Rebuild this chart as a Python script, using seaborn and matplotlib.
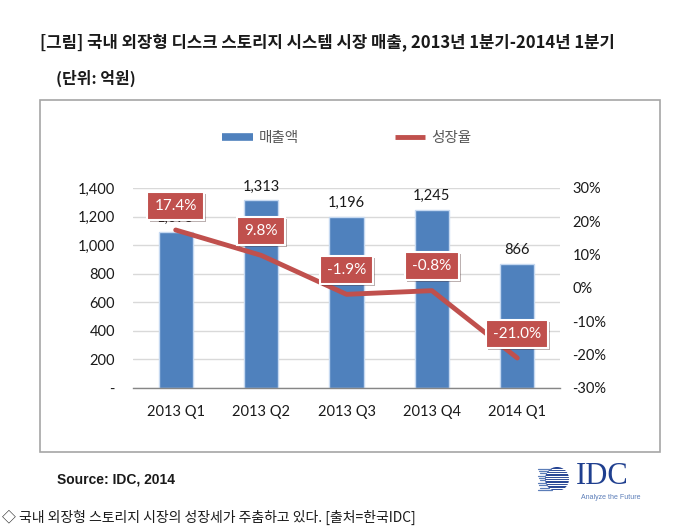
import matplotlib
matplotlib.use("Agg")
import matplotlib.pyplot as plt
import matplotlib.patheffects as pe
from matplotlib.patches import Rectangle, Circle
from matplotlib.lines import Line2D
from matplotlib.ticker import FuncFormatter, FixedLocator
import seaborn as sns
import numpy as np

# ---- data ----
quarters = ["2013 Q1", "2013 Q2", "2013 Q3", "2013 Q4", "2014 Q1"]
sales = [1093, 1313, 1196, 1245, 866]            # 억원
growth = [0.174, 0.098, -0.019, -0.008, -0.210]   # 성장율
sales_ticks = [0, 200, 400, 600, 800, 1000, 1200, 1400]
growth_ticks = [-0.30, -0.20, -0.10, 0.0, 0.10, 0.20, 0.30]

title = "[그림] 국내 외장형 디스크 스토리지 시스템 시장 매출, 2013년 1분기-2014년 1분기"
unit_text = "(단위: 억원)"
legend_labels = ["매출액", "성장율"]
source_text = "Source: IDC, 2014"
caption = "◇ 국내 외장형 스토리지 시장의 성장세가 주춤하고 있다. [출처=한국IDC]"

BLUE = "#4F81BD"
RED = "#C0504D"

sns.set_theme(style="white")
plt.rcParams['font.family'] = ['Lato', 'Noto Sans CJK KR', 'DejaVu Sans']
KR = ['Noto Sans CJK KR', 'DejaVu Sans']

W, H = 680, 530
fig = plt.figure(figsize=(W / 100, H / 100), dpi=100)
fig.patch.set_facecolor("white")

def fx(px):
    return px / W

def fy(py):
    return 1 - py / H

# outer frame
fig.patches.append(Rectangle((fx(40), fy(452)), fx(660) - fx(40), fy(100) - fy(452),
                             transform=fig.transFigure, fill=False,
                             edgecolor="#A6A6A6", linewidth=1.2, zorder=0))

ax = fig.add_axes([fx(133), fy(388), fx(560) - fx(133), fy(188) - fy(388)])
ax2 = ax.twinx()

sns.barplot(x=quarters, y=sales, ax=ax, color=BLUE, saturation=1, width=0.4,
            edgecolor="#C6D9F1", linewidth=1.0, zorder=2)
ax.set_ylim(0, 1400)
ax.set_xlim(-0.5, 4.5)
ax.yaxis.set_major_locator(FixedLocator(sales_ticks))
ax.yaxis.set_major_formatter(FuncFormatter(lambda v, p: "-" if v == 0 else f"{int(v):,}"))
ax.grid(axis="y", color="#D9D9D9", linewidth=1.0, zorder=0)
ax.set_axisbelow(True)
ax.set_xlabel("")
ax.set_ylabel("")

sns.lineplot(x=np.arange(len(quarters)), y=growth, ax=ax2, color=RED,
             linewidth=3.5, sort=False, zorder=3, legend=False)
ax2.set_ylim(-0.30, 0.30)
ax2.yaxis.set_major_locator(FixedLocator(growth_ticks))
ax2.yaxis.set_major_formatter(FuncFormatter(lambda v, p: f"{round(v * 100):d}%"))
ax2.set_ylabel("")
ax2.grid(False)

for a in (ax, ax2):
    for s in ("top", "left", "right"):
        a.spines[s].set_visible(False)
    a.spines["bottom"].set_color("#868686")
    a.spines["bottom"].set_linewidth(1.0)
    a.tick_params(length=0, labelsize=10.5, labelcolor="#1A1A1A")
ax2.spines["bottom"].set_visible(False)
ax.tick_params(axis="y", pad=13)
ax.tick_params(axis="x", pad=12)
ax2.tick_params(axis="y", pad=9)

# bar value labels (the first one sits behind the 17.4% box, as in the source)
for i, v in enumerate(sales):
    ax.annotate(f"{v:,}", (i, v), xytext=(0, 5), textcoords="offset points",
                ha="center", va="bottom", fontsize=10.5, color="#1A1A1A", zorder=4)

# growth labels (boxes)
ax2.set_zorder(ax.get_zorder() + 1)
ax2.patch.set_visible(False)
for i, g in enumerate(growth):
    t = ax2.annotate(f"{g * 100:.1f}%", (i, g), xytext=(0, 17.5), textcoords="offset points",
                     ha="center", va="center", fontsize=11, color="white",
                     bbox=dict(boxstyle="square,pad=0.46", facecolor=RED,
                               edgecolor="white", linewidth=1.5), zorder=5)
    t.get_bbox_patch().set_path_effects([
        pe.SimplePatchShadow(offset=(1.5, -1.5), alpha=0.35), pe.Normal()])

# legend
handles = [Line2D([0], [0], color=BLUE, linewidth=5.5, solid_capstyle="butt"),
           Line2D([0], [0], color=RED, linewidth=3.5, solid_capstyle="butt")]
leg = fig.legend(handles, legend_labels, loc="center left",
                 bbox_to_anchor=(fx(222), fy(138)), ncol=2, frameon=False,
                 handlelength=2.1, handletextpad=0.4, columnspacing=6.6,
                 borderpad=0, borderaxespad=0,
                 prop={"family": KR, "size": 10.5})
for txt in leg.get_texts():
    txt.set_color("#595959")

# texts
fig.text(fx(40), fy(42), title, ha="left", va="center", fontsize=12,
         fontweight="bold", family=KR, color="#1A1A1A")
fig.text(fx(56), fy(78), unit_text, ha="left", va="center", fontsize=11.5,
         fontweight="bold", family=KR, color="#1A1A1A")
fig.text(fx(57), fy(480), source_text, ha="left", va="center", fontsize=10,
         fontweight="bold", family=['Liberation Sans', 'DejaVu Sans'], color="#1A1A1A")
fig.text(fx(2), fy(517), caption, ha="left", va="center", fontsize=10,
         family=KR, color="#1A1A1A")

# IDC logo
lax = fig.add_axes([fx(530), fy(504), fx(645) - fx(530), fy(460) - fy(504)])
lax.set_xlim(530, 645)
lax.set_ylim(504, 460)
lax.axis("off")
cx, cy, r = 557, 479, 12
globe = Circle((cx, cy), r, facecolor="#1F3F8F", edgecolor="none")
lax.add_patch(globe)
for k, yy in enumerate(np.arange(cy - r + 1.5, cy + r, 2.4)):
    half = np.sqrt(max(r * r - (yy - cy) ** 2, 0))
    lax.plot([cx - r - 6 + (k % 3), cx + r], [yy, yy], color="white", linewidth=0.8)
    lax.plot([cx - r - 7 + (k % 3), cx - half], [yy, yy], color="#5B7DB8", linewidth=0.9)
lax.text(576, 476, "IDC", ha="left", va="center", fontsize=22,
         family=["Liberation Serif", "DejaVu Serif"], color="#1F3F8F")
lax.text(581, 497, "Analyze the Future", ha="left", va="center", fontsize=5,
         family=["Liberation Sans", "DejaVu Sans"], color="#5B7DB8")

fig.savefig("out.png", dpi=100, facecolor="white")
